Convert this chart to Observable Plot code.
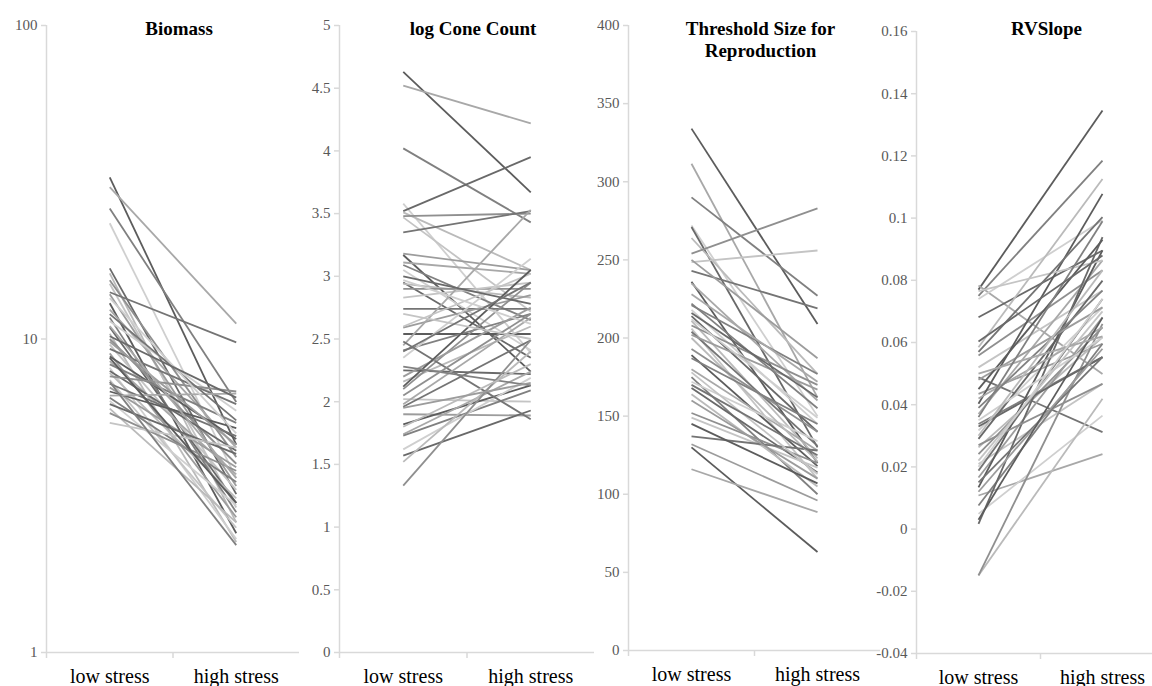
<!DOCTYPE html>
<html><head><meta charset="utf-8">
<script src="https://cdn.jsdelivr.net/npm/d3@7"></script>
<script src="https://cdn.jsdelivr.net/npm/@observablehq/plot@0.6"></script>
<style>
html,body{margin:0;padding:0;background:#fff;overflow:hidden;}
#chart{position:relative;width:1152px;height:686px;overflow:hidden;background:#fff;}
#chart > div{position:absolute;top:0;}
#chart svg text{font-family:'Liberation Serif','Times New Roman',serif;}
</style></head><body><div id="chart"></div>
<script>
// ---- data ----
const categories = ["low stress", "high stress"];
const titles = ["Biomass", "log Cone Count", "Threshold Size for\nReproduction", "RVSlope"];

const biomassTicks = [1, 10, 100];
const coneTicks = [0, 0.5, 1, 1.5, 2, 2.5, 3, 3.5, 4, 4.5, 5];
const thresholdTicks = [0, 50, 100, 150, 200, 250, 300, 350, 400];
const rvTicks = [-0.04, -0.02, 0, 0.02, 0.04, 0.06, 0.08, 0.1, 0.12, 0.14, 0.16];

const biomassLow = [32.8, 30.5, 26.1, 23.4, 16.8, 16.2, 15.4, 15.0, 14.1, 13.9, 13.0, 12.4, 11.7, 11.4, 10.9, 10.4, 10.0, 9.6, 9.3, 9.0, 8.8, 8.5, 8.3, 8.1, 7.9, 7.8, 7.6, 7.4, 7.2, 7.0, 6.8, 6.6, 6.5, 6.35, 6.2, 6.0, 5.8, 5.4, 12.0, 9.8, 8.7, 11.0, 7.3, 13.5, 10.2];
const biomassHigh = [4.6, 11.2, 6.3, 3.6, 3.2, 2.6, 4.2, 2.9, 9.75, 3.4, 2.4, 4.5, 2.8, 5.9, 3.0, 2.25, 4.0, 3.3, 6.2, 2.7, 4.8, 3.7, 5.4, 2.3, 4.4, 3.1, 6.8, 2.5, 4.9, 3.9, 5.2, 6.7, 3.5, 2.95, 4.3, 2.6, 3.8, 4.5, 5.5, 4.6, 3.0, 3.6, 2.2, 5.0, 6.5];

const coneLow = [4.63, 4.52, 4.02, 3.58, 3.52, 3.51, 3.48, 3.47, 3.35, 3.18, 3.17, 3.11, 3.09, 3.05, 2.95, 2.94, 2.90, 2.83, 2.74, 2.59, 2.54, 2.45, 2.41, 2.35, 2.25, 2.16, 2.10, 2.02, 1.96, 1.90, 1.82, 1.74, 1.73, 1.62, 1.57, 1.52, 1.33, 2.60, 2.48, 2.20, 2.12, 1.98, 2.28, 2.97, 3.00, 1.80, 2.05, 2.70, 2.40, 1.95];
const coneHigh = [3.67, 4.22, 3.43, 2.39, 3.95, 3.05, 3.50, 2.72, 3.52, 3.05, 2.24, 3.02, 2.65, 2.41, 2.35, 2.83, 2.90, 2.95, 2.74, 2.85, 2.54, 3.53, 2.70, 3.14, 2.22, 2.60, 2.95, 2.00, 2.49, 1.89, 2.13, 2.24, 2.09, 2.19, 1.93, 2.40, 2.49, 3.02, 1.86, 2.75, 3.05, 2.67, 2.13, 2.62, 2.78, 2.30, 2.70, 2.50, 2.95, 2.15];

const thresholdLow = [334, 311.5, 290, 272, 271, 264, 254, 248.5, 243, 250, 236, 235, 221, 218, 214, 211, 208, 206, 204, 202, 189, 180, 175, 172, 168, 164, 152, 149, 137, 132, 130, 116, 222, 212, 216, 200, 193, 178, 170, 160, 145, 228, 187];
const thresholdHigh = [209, 162, 227, 150, 130, 177, 283, 256, 219, 187, 120, 160, 177, 145, 140, 123, 170, 110, 131, 167, 118, 128, 100, 134, 114, 105, 120, 117, 128, 96, 63, 88.5, 155, 149, 162, 121, 140, 113, 125, 110, 107, 172, 145];

const rvLow = [0.077, 0.0783, 0.075, 0.074, 0.0681, 0.0585, 0.0558, 0.052, 0.0488, 0.0435, 0.0403, 0.037, 0.0338, 0.0317, 0.029, 0.0263, 0.0241, 0.0209, 0.0188, 0.0166, 0.0134, 0.0108, 0.0076, 0.0049, 0.0017, -0.0149, -0.0149, 0.0765, 0.057, 0.048, 0.045, 0.042, 0.039, 0.035, 0.033, 0.030, 0.027, 0.022, 0.015, 0.012, 0.003, 0.050, 0.036, 0.020, 0.0603];
const rvHigh = [0.1346, 0.0499, 0.1185, 0.0993, 0.0896, 0.1126, 0.0832, 0.0767, 0.0312, 0.0596, 0.1078, 0.0864, 0.0553, 0.0713, 0.0799, 0.0617, 0.0649, 0.0467, 0.0740, 0.0681, 0.0896, 0.0241, 0.0596, 0.0365, 0.0939, 0.0419, 0.066, 0.0864, 0.1003, 0.0713, 0.093, 0.0649, 0.0767, 0.0617, 0.0553, 0.0832, 0.0467, 0.070, 0.0553, 0.058, 0.068, 0.062, 0.099, 0.0740, 0.0880];

// ---- styles / layout ----
const shades = ["#5c5c5c", "#a8a8a8", "#808080", "#cfcfcf", "#696969", "#bababa", "#8f8f8f", "#c4c4c4", "#747474", "#9c9c9c"];
const axisGray = "#d9d9d9";
const serif = "'Liberation Serif', 'Times New Roman', serif";
const layout = [
  {x: 46, w: 253, top: 25, bottom: 652},
  {x: 339, w: 255, top: 25, bottom: 652},
  {x: 628, w: 252, top: 25, bottom: 650},
  {x: 916, w: 248, top: 31, bottom: 653}
];
const ML = 70, H = 686;

function panel(k, title, low, high, yScale, ticks, fmt) {
  const L = layout[k];
  const idx = d3.range(low.length);
  const xOf = c => categories.indexOf(c) + 0.5;
  const svg = Plot.plot({
    width: ML + L.w, height: H,
    marginLeft: ML, marginRight: 0, marginTop: L.top, marginBottom: H - L.bottom,
    x: {type: "linear", domain: [0, categories.length], axis: null},
    y: {...yScale, axis: null},
    color: {type: "identity"},
    style: {background: "transparent", overflow: "visible", fontFamily: serif, fontSize: "15px"},
    marks: [
      Plot.ruleY([yScale.domain[0]], {stroke: axisGray, strokeWidth: 1.5}),
      Plot.ruleX([0], {stroke: axisGray, strokeWidth: 1.5, insetBottom: -6}),
      Plot.axisY(ticks, {tickSize: 5, tickPadding: 4, tickFormat: fmt, stroke: axisGray, strokeWidth: 1.5, fill: "#595959", fontSize: 15, fontFamily: serif, label: null}),
      Plot.axisX(d3.range(1, categories.length), {tickSize: 6, tickFormat: () => "", stroke: axisGray, strokeWidth: 1.5, fill: "none", label: null}),
      Plot.link(idx, {
        x1: () => xOf(categories[0]), x2: () => xOf(categories[1]),
        y1: i => low[i], y2: i => high[i],
        stroke: i => shades[i % shades.length], strokeWidth: 1.8
      }),
      Plot.text(categories, {x: c => xOf(c), frameAnchor: "bottom", lineAnchor: "bottom", dy: 30, fontSize: 20, fontFamily: serif, fill: "#000"}),
      Plot.text([title], {frameAnchor: "top", lineAnchor: "top", dy: 18.5 - L.top, dx: 6, fontSize: 19, fontFamily: serif, fontWeight: "bold", fill: "#000", lineHeight: 1.16})
    ]
  });
  const wrap = document.createElement("div");
  wrap.style.left = (L.x - ML) + "px";
  wrap.style.width = (ML + L.w) + "px";
  wrap.appendChild(svg);
  document.getElementById("chart").appendChild(wrap);
}

const plain = d => String(+(+d).toFixed(2));
panel(0, titles[0], biomassLow, biomassHigh, {type: "log", domain: [1, 100]}, biomassTicks, plain);
panel(1, titles[1], coneLow, coneHigh, {type: "linear", domain: [0, 5]}, coneTicks, plain);
panel(2, titles[2], thresholdLow, thresholdHigh, {type: "linear", domain: [0, 400]}, thresholdTicks, plain);
panel(3, titles[3], rvLow, rvHigh, {type: "linear", domain: [-0.04, 0.16]}, rvTicks, plain);
</script></body></html>
